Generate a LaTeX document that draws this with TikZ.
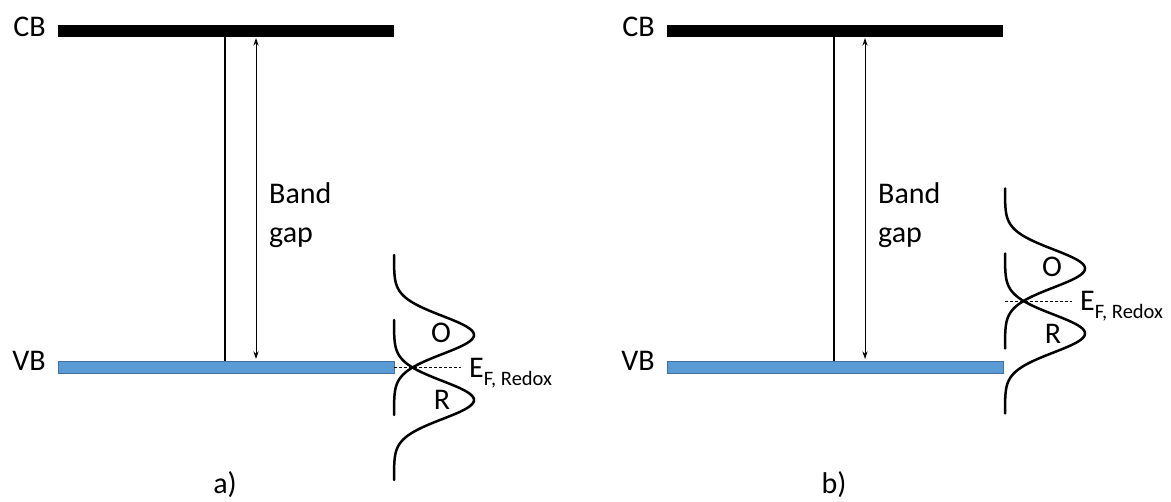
\documentclass[tikz,border=0pt]{standalone}
\usepackage{fontspec}
\setmainfont{Carlito}
\usetikzlibrary{arrows.meta}
\definecolor{vbfill}{HTML}{5B9BD5}
\definecolor{vbedge}{HTML}{41719C}
\tikzset{
  lbl/.style={font=\fontsize{30}{35}\selectfont, inner sep=0pt},
  cbbar/.style={fill=black, draw=none, rectangle, inner sep=0pt, minimum width=336pt, minimum height=12pt, anchor=north west},
  vbbar/.style={fill=vbfill, draw=vbedge, line width=0.8pt, rectangle, inner sep=0pt, minimum width=336pt, minimum height=12pt, anchor=north west},
  stem/.style={line width=2pt},
  gaparrow/.style={line width=1pt, {Stealth[length=7.5pt,width=5pt]}-{Stealth[length=7.5pt,width=5pt]}},
  dos/.style={line width=2.5pt, line cap=round},
  fermi/.style={line width=0.8pt, dash pattern=on 3pt off 2pt},
}
\newcommand{\subred}[1]{\raisebox{-8pt}{\fontsize{20.5}{21}\selectfont #1}}
\begin{document}
\begin{tikzpicture}[x=1pt,y=-1pt]
\useasboundingbox (0,0) rectangle (1171,502);
\foreach \dx/\name/\xr/\yc in {0/a/394/367.5, 609/b/1005/301} {
  \begin{scope}[shift={(\dx,0)}]
    \node[cbbar] (cb\name) at (58,25) {};
    \node[vbbar] (vb\name) at (58,361) {};
    \node[lbl, anchor=base east] (cbl\name) at (46,37) {CB};
    \node[lbl, anchor=base east] (vbl\name) at (46,371) {VB};
    \coordinate (st\name) at (225,37);
    \draw[stem] (st\name) -- (st\name |- vb\name.north);
    \coordinate (gt\name) at (256,38);
    \coordinate (gb\name) at (256,359);
    \draw[gaparrow] (gt\name) -- (gb\name);
    \node[lbl, anchor=base west] (band\name) at (269,204) {Band};
    \node[lbl, anchor=base west] (gap\name) at (269,243) {gap};
    \node[lbl, anchor=base] (cap\name) at (225,494) {\name)};
  \end{scope}
  \draw[dos] plot[domain=-80:80, samples=121] ({\xr+80*exp(-((\x)*(\x))/722)}, {\yc-32.5+\x});
  \draw[dos] plot[domain=-80:80, samples=121] ({\xr+80*exp(-((\x)*(\x))/722)}, {\yc+32.5+\x});
  \coordinate (ef\name) at (\xr,\yc);
  \coordinate (efe\name) at (\xr+67,\yc);
  \draw[fermi] (ef\name) -- (efe\name);
  \node[lbl, anchor=base west] (efl\name) at (\xr+75,\yc+10) {E\subred{F, Redox}};
  \node[lbl, anchor=base] (ol\name) at (\xr+47,\yc-24.5) {O};
  \node[lbl, anchor=base] (rl\name) at (\xr+48,\yc+42.5) {R};
}
\end{tikzpicture}
\end{document}
